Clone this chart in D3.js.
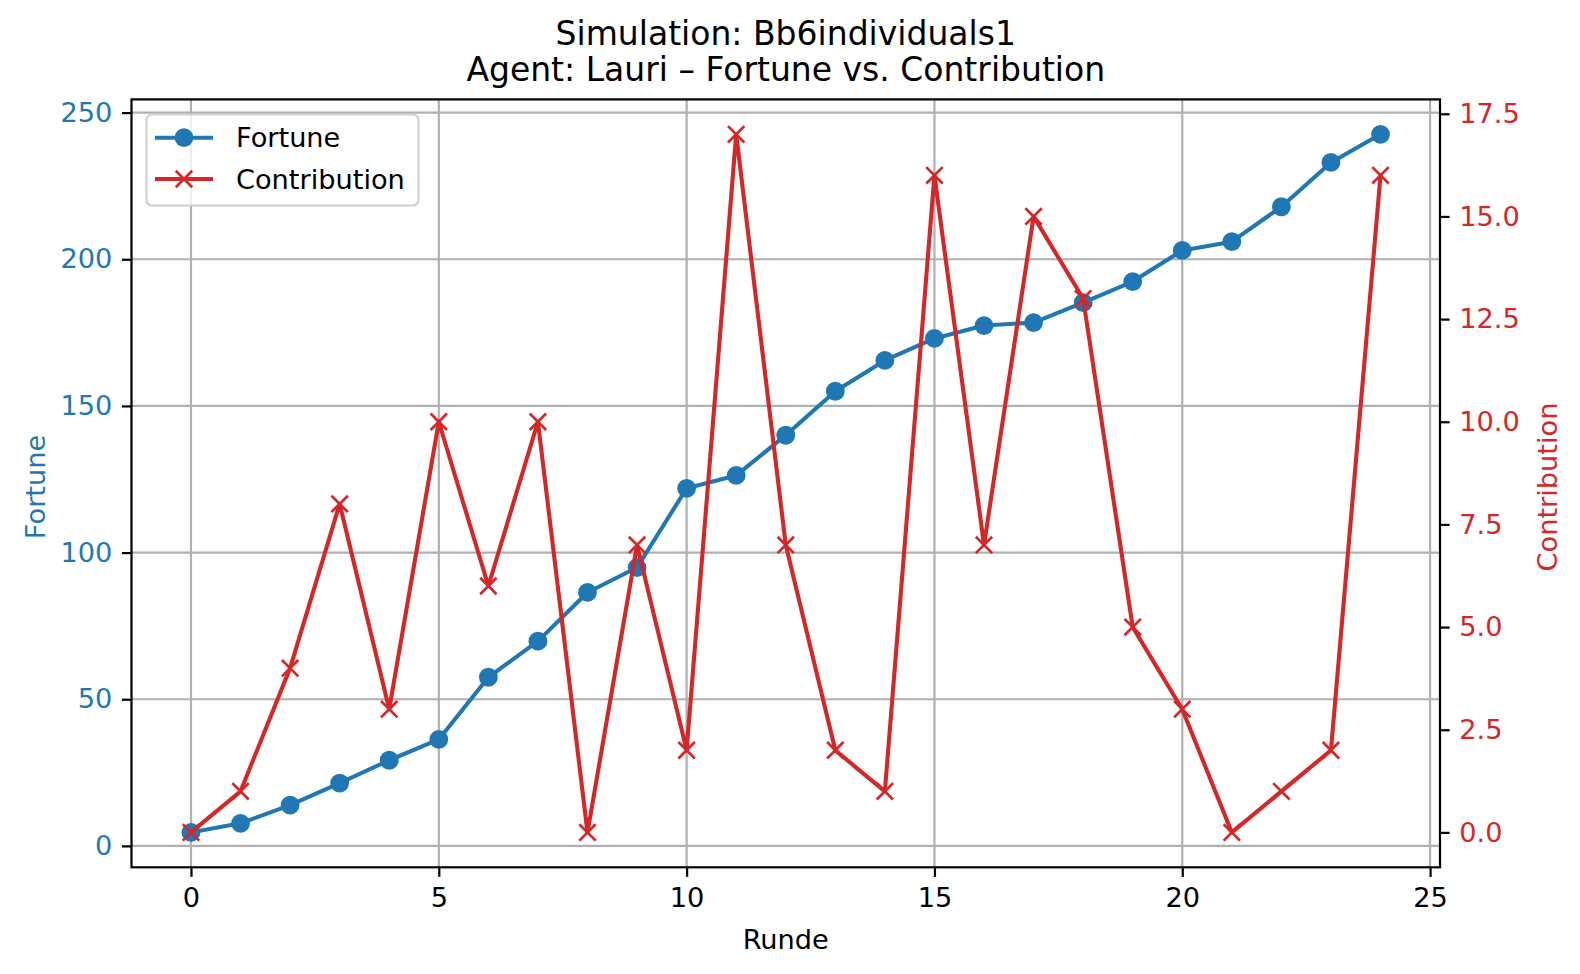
<!DOCTYPE html>
<html>
<head>
<meta charset="utf-8">
<script src="https://cdn.jsdelivr.net/npm/d3@7"></script>
<style>
  html, body { margin: 0; padding: 0; background: #fff; }
  svg { display: block; font-family: "DejaVu Sans", sans-serif; }
</style>
</head>
<body>
<svg id="chart" width="1580" height="974"></svg>
<script>
// ---- data ----
const rounds = [0,1,2,3,4,5,6,7,8,9,10,11,12,13,14,15,16,17,18,19,20,21,22,23,24];
const fortune = [4.6,7.7,13.9,21.4,29.2,36.3,57.5,69.8,86.4,94.9,121.9,126.3,140.0,155.0,165.5,173.0,177.4,178.4,185.2,192.4,203.0,206.0,217.9,233.0,242.6];
const contribution = [0,1,4,8,3,10,6,10,0,7,2,17,7,2,1,16,7,15,13,5,3,0,1,2,16];
const xTicks = [0,5,10,15,20,25];
const fortuneTicks = [0,50,100,150,200,250];
const contributionTicks = [0,2.5,5,7.5,10,12.5,15,17.5];
const titleLines = ["Simulation: Bb6individuals1", "Agent: Lauri \u2013 Fortune vs. Contribution"];
const seriesNames = ["Fortune", "Contribution"];

// ---- layout ----
const W = 1580, H = 974;
const L = 131.5, R = 1440, T = 99.4, B = 867.3;
const BLUE = "#1f77b4", RED = "#d62728";
const tickFont = 27.2, titleFont = 33;

function padded(ext, frac) { const d = ext[1]-ext[0]; return [ext[0]-d*frac, ext[1]+d*frac]; }

const x = d3.scaleLinear().domain(padded(d3.extent(rounds), 0.05)).range([L, R]);
const y1 = d3.scaleLinear().domain(padded(d3.extent(fortune), 0.05)).range([B, T]);
const y2 = d3.scaleLinear().domain(padded(d3.extent(contribution), 0.05)).range([B, T]);

const svg = d3.select("#chart");
svg.append("rect").attr("width", W).attr("height", H).attr("fill", "#fff");

// grid (from primary axes)
const grid = svg.append("g").attr("stroke", "#b0b0b0").attr("stroke-width", 2.2);
xTicks.forEach(t => grid.append("line").attr("x1", x(t)).attr("x2", x(t)).attr("y1", T).attr("y2", B));
fortuneTicks.forEach(t => grid.append("line").attr("x1", L).attr("x2", R).attr("y1", y1(t)).attr("y2", y1(t)));

// fortune line
const line1 = d3.line().x((d,i) => x(rounds[i])).y(d => y1(d));
svg.append("path").datum(fortune).attr("d", line1).attr("fill", "none")
  .attr("stroke", BLUE).attr("stroke-width", 4.1).attr("stroke-linejoin", "round").attr("stroke-linecap", "square");
svg.append("g").selectAll("circle").data(fortune).join("circle")
  .attr("cx", (d,i) => x(rounds[i])).attr("cy", d => y1(d)).attr("r", 9.4).attr("fill", BLUE);

// legend
const lg = svg.append("g");
lg.append("rect").attr("x", 146.5).attr("y", 114.5).attr("width", 272).attr("height", 91)
  .attr("rx", 5.5).attr("fill", "rgba(255,255,255,0.8)").attr("stroke", "#d0d0d0").attr("stroke-width", 2.2);
[[BLUE, 137.7], [RED, 179]].forEach(([c, yy], k) => {
  lg.append("line").attr("x1", 155).attr("x2", 213).attr("y1", yy).attr("y2", yy)
    .attr("stroke", c).attr("stroke-width", 4.1);
  if (k === 0) {
    lg.append("circle").attr("cx", 184).attr("cy", yy).attr("r", 9.4).attr("fill", c);
  } else {
    lg.append("path").attr("d", `M${184-8.2},${yy-8.2}L${184+8.2},${yy+8.2}M${184-8.2},${yy+8.2}L${184+8.2},${yy-8.2}`)
      .attr("stroke", c).attr("stroke-width", 2.7);
  }
  lg.append("text").attr("x", 236).attr("y", yy).attr("dy", "0.36em")
    .attr("font-size", tickFont).attr("fill", "#000").text(seriesNames[k]);
});

// contribution line
const line2 = d3.line().x((d,i) => x(rounds[i])).y(d => y2(d));
svg.append("path").datum(contribution).attr("d", line2).attr("fill", "none")
  .attr("stroke", RED).attr("stroke-width", 4.1).attr("stroke-linejoin", "round").attr("stroke-linecap", "square");
svg.append("g").selectAll("path").data(contribution).join("path")
  .attr("d", (d,i) => {
    const cx = x(rounds[i]), cy = y2(d), s = 8.2;
    return `M${cx-s},${cy-s}L${cx+s},${cy+s}M${cx-s},${cy+s}L${cx+s},${cy-s}`;
  })
  .attr("stroke", RED).attr("stroke-width", 2.7).attr("fill", "none");

// spines
svg.append("rect").attr("x", L).attr("y", T).attr("width", R-L).attr("height", B-T)
  .attr("fill", "none").attr("stroke", "#000").attr("stroke-width", 2.2);

// axes
function styleAxis(g) {
  g.select(".domain").remove();
  g.selectAll(".tick line").attr("stroke", "#000").attr("stroke-width", 2.2);
  g.selectAll(".tick text").attr("font-size", tickFont).attr("font-family", "DejaVu Sans, sans-serif");
}
const tl = 9.6, tp = 9.6;
const gx = svg.append("g").attr("transform", `translate(0,${B})`)
  .call(d3.axisBottom(x).tickValues(xTicks).tickSize(tl).tickPadding(tp).tickFormat(d3.format("d")));
styleAxis(gx);
gx.selectAll(".tick text").attr("fill", "#000").attr("dy", "0.76em");

const gy1 = svg.append("g").attr("transform", `translate(${L},0)`)
  .call(d3.axisLeft(y1).tickValues(fortuneTicks).tickSize(tl).tickPadding(tp).tickFormat(d3.format("d")));
styleAxis(gy1);
gy1.selectAll(".tick text").attr("fill", BLUE);

const gy2 = svg.append("g").attr("transform", `translate(${R},0)`)
  .call(d3.axisRight(y2).tickValues(contributionTicks).tickSize(tl).tickPadding(tp).tickFormat(d3.format(".1f")));
styleAxis(gy2);
gy2.selectAll(".tick text").attr("fill", RED);

// labels
const labelCY = 487;
svg.append("text").attr("x", (L+R)/2).attr("y", 949).attr("text-anchor", "middle")
  .attr("font-size", tickFont).attr("fill", "#000").text("Runde");
svg.append("text").attr("transform", `translate(44.5,${labelCY}) rotate(-90)`).attr("text-anchor", "middle")
  .attr("font-size", tickFont).attr("fill", BLUE).text("Fortune");
svg.append("text").attr("transform", `translate(1556.5,${labelCY}) rotate(-90)`).attr("text-anchor", "middle")
  .attr("font-size", tickFont).attr("fill", RED).text("Contribution");

// title
const titleBase = [45, 80.7];
titleLines.forEach((t, i) => {
  svg.append("text").attr("x", (L+R)/2).attr("y", titleBase[i]).attr("text-anchor", "middle")
    .attr("font-size", titleFont).attr("fill", "#000").text(t);
});
</script>
</body>
</html>
